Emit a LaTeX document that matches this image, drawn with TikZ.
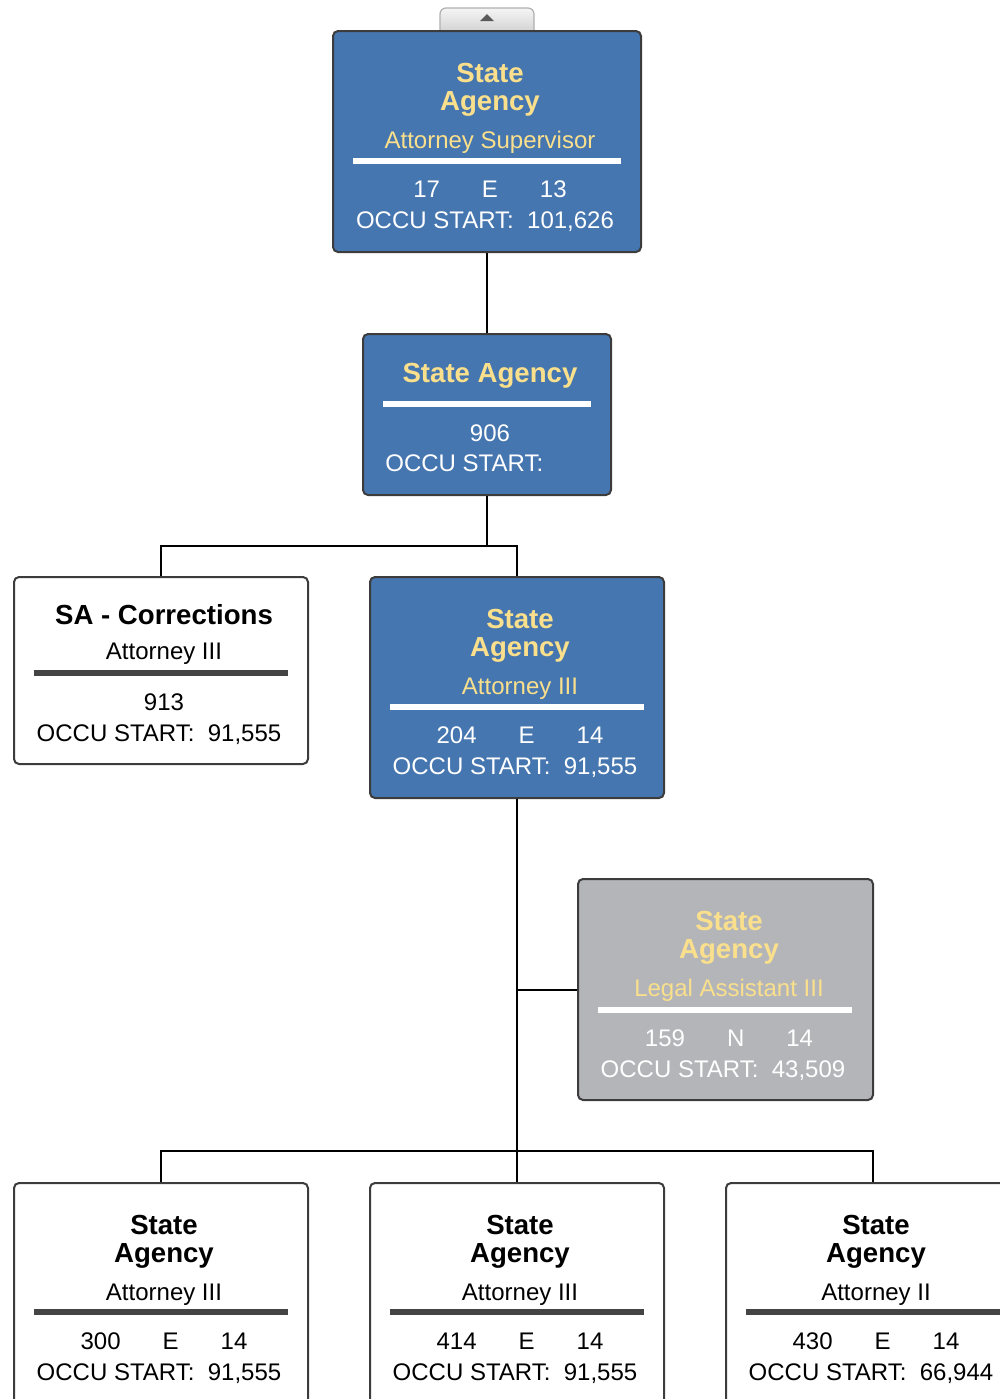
\documentclass[tikz,border=0pt]{standalone}
\usepackage{fontspec}
\setmainfont{Liberation Sans}
\definecolor{boxblue}{RGB}{70,118,175}
\definecolor{ylw}{RGB}{250,224,140}
\definecolor{boxgray}{RGB}{179,181,185}
\definecolor{edge}{RGB}{60,60,60}
\definecolor{bardark}{RGB}{68,68,68}
\definecolor{tabline}{RGB}{175,175,175}
\newcommand{\gapE}{\hspace{1.75em}}
\begin{document}
\begin{tikzpicture}[x=0.5pt,y=-0.5pt,
  card/.style={draw=edge, line width=1pt, rounded corners=2.5pt, inner sep=0pt, minimum width=147pt, minimum height=110.5pt},
  bluecard/.style={card, fill=boxblue},
  graycard/.style={card, fill=boxgray},
  whitecard/.style={card, fill=white},
  ttl/.style={anchor=base, inner sep=0pt, font=\fontsize{13.8}{16}\selectfont\bfseries},
  txt/.style={anchor=base, inner sep=0pt, font=\fontsize{12}{14}\selectfont},
  wire/.style={line width=1pt, black},
  barw/.style={line width=3pt, white},
  bard/.style={line width=3pt, bardark}]
\useasboundingbox (0,0) rectangle (1000,1399);
\clip (0,0) rectangle (1000,1399);

% tab above top box
\shade[top color=white!96!black, bottom color=white!82!black, draw=tabline, line width=0.6pt, rounded corners=3pt]
  (440,33) -- (440,8) -- (534,8) -- (534,33);
\fill[black!65] (480,21) -- (494,21) -- (487,14) -- cycle;

% connectors
\coordinate (j1) at (487,546);
\coordinate (j2) at (517,1151);

% boxes
\node[bluecard, minimum width=154pt] (b1) at (487,141.5) {};
\node[bluecard, minimum width=124pt, minimum height=80.5pt] (b2) at (487,414.5) {};
\node[whitecard, minimum height=93.5pt] (b3) at (161,670.5) {};
\node[bluecard] (b4) at (517,687.5) {};
\node[graycard, minimum width=147.5pt] (b5) at (725.5,989.5) {};
\node[whitecard] (b6) at (161,1293.5) {};
\node[whitecard] (b7) at (517,1293.5) {};
\node[whitecard] (b8) at (873,1293.5) {};

\draw[wire] (b1.south) -- (b2.north);
\draw[wire] (b2.south) -- (j1);
\draw[wire] (b3.north) |- (j1) -| (b4.north);
\draw[wire] (b4.south) -- (b7.north);
\draw[wire] (b4.south |- b5.west) -- (b5.west);
\draw[wire] (b6.north) |- (j2) -| (b8.north);

% box 1
\node[ttl, text=ylw] (b1t1) at (490,82) {State};
\node[ttl, text=ylw] (b1t2) at (490,110) {Agency};
\node[txt, text=ylw] (b1t3) at (490,148) {Attorney Supervisor};
\draw[barw] (353,161) -- (621,161);
\node[txt, text=white] (b1t4) at (490,197) {17\gapE E\gapE 13};
\node[txt, text=white] (b1t5) at (485,228) {OCCU START:\ \ 101,626};

% box 2
\node[ttl, text=ylw] (b2t1) at (490,382) {State Agency};
\draw[barw] (383,404) -- (591,404);
\node[txt, text=white] (b2t2) at (490,441) {906};
\node[txt, text=white, anchor=base west] (b2t3) at (385,471) {OCCU START:};

% box 3
\node[ttl, text=black] (b3t1) at (164,624) {SA - Corrections};
\node[txt, text=black] (b3t2) at (164,659) {Attorney III};
\draw[bard] (34,673) -- (288,673);
\node[txt, text=black] (b3t3) at (164,710) {913};
\node[txt, text=black] (b3t4) at (159,741) {OCCU START:\ \ 91,555};

% box 4
\node[ttl, text=ylw] (b4t1) at (520,628) {State};
\node[ttl, text=ylw] (b4t2) at (520,656) {Agency};
\node[txt, text=ylw] (b4t3) at (520,694) {Attorney III};
\draw[barw] (390,707) -- (644,707);
\node[txt, text=white] (b4t4) at (520,743) {204\gapE E\gapE 14};
\node[txt, text=white] (b4t5) at (515,774) {OCCU START:\ \ 91,555};

% box 5
\node[ttl, text=ylw] (b5t1) at (729,930) {State};
\node[ttl, text=ylw] (b5t2) at (729,958) {Agency};
\node[txt, text=ylw] (b5t3) at (729,996) {Legal Assistant III};
\draw[barw] (598,1010) -- (852,1010);
\node[txt, text=white] (b5t4) at (729,1046) {159\gapE N\gapE 14};
\node[txt, text=white] (b5t5) at (723,1077) {OCCU START:\ \ 43,509};

% box 6
\node[ttl] (b6t1) at (164,1234) {State};
\node[ttl] (b6t2) at (164,1262) {Agency};
\node[txt] (b6t3) at (164,1300) {Attorney III};
\draw[bard] (34,1312) -- (288,1312);
\node[txt] (b6t4) at (164,1349) {300\gapE E\gapE 14};
\node[txt] (b6t5) at (159,1380) {OCCU START:\ \ 91,555};

% box 7
\node[ttl] (b7t1) at (520,1234) {State};
\node[ttl] (b7t2) at (520,1262) {Agency};
\node[txt] (b7t3) at (520,1300) {Attorney III};
\draw[bard] (390,1312) -- (644,1312);
\node[txt] (b7t4) at (520,1349) {414\gapE E\gapE 14};
\node[txt] (b7t5) at (515,1380) {OCCU START:\ \ 91,555};

% box 8
\node[ttl] (b8t1) at (876,1234) {State};
\node[ttl] (b8t2) at (876,1262) {Agency};
\node[txt] (b8t3) at (876,1300) {Attorney II};
\draw[bard] (746,1312) -- (1002,1312);
\node[txt] (b8t4) at (876,1349) {430\gapE E\gapE 14};
\node[txt] (b8t5) at (871,1380) {OCCU START:\ \ 66,944};
\end{tikzpicture}
\end{document}
